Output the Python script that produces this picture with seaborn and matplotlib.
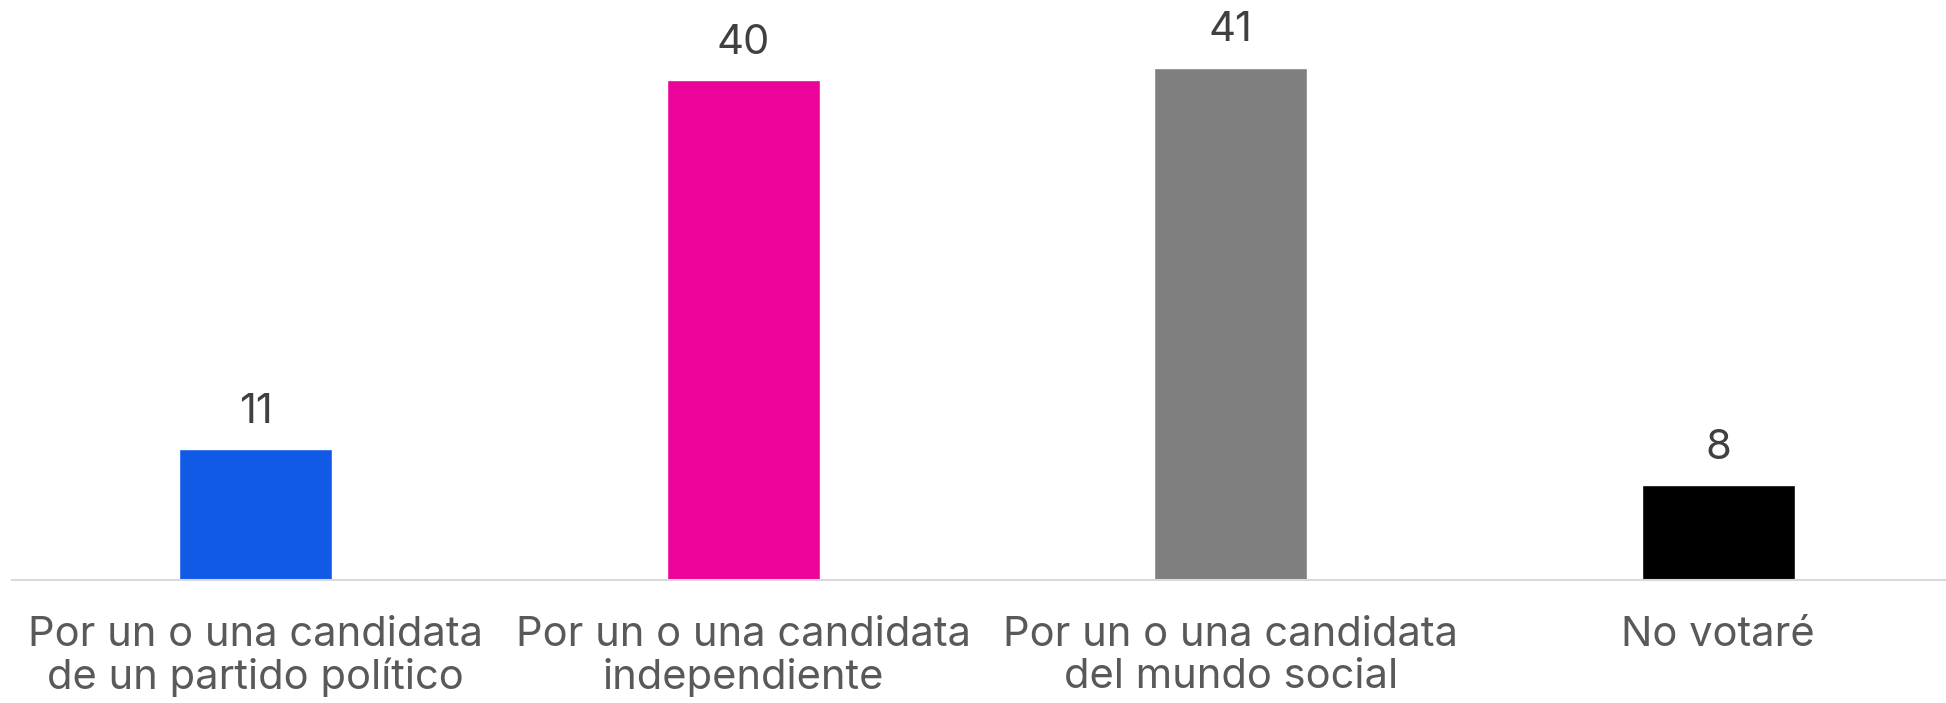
import pandas as pd
import seaborn as sns
import matplotlib.pyplot as plt

# data
categories = ["Por un o una candidata\nde un partido político",
              "Por un o una candidata\nindependiente",
              "Por un o una candidata\ndel mundo social",
              "No votaré"]
values = [10.5, 40, 41, 7.6]
labels = ["11", "40", "41", "8"]
colors = ["#105AE5", "#EC0399", "#7F7F7F", "#000000"]

df = pd.DataFrame({"cat": categories, "val": values})

sns.set_theme(style="white")
plt.rcParams['font.family'] = ['Inter', 'DejaVu Sans']

fig = plt.figure(figsize=(19.46, 7.03), dpi=100)
ax = fig.add_axes([12 / 1946, 123 / 703, 1934 / 1946, 580 / 703])

sns.barplot(data=df, x="cat", y="val", hue="cat", palette=colors,
            width=0.314, legend=False, ax=ax, saturation=1)

for c, lab in zip(ax.containers, labels):
    ax.bar_label(c, labels=[lab], padding=13, fontsize=30, color="#404040")

ax.set_xlim(-0.5, 3.5 - 16 / 487.7)
ax.set_ylim(0, 46.4)
ax.set_xlabel("")
ax.set_ylabel("")
ax.set_yticks([])
ax.tick_params(axis="x", length=0, pad=26, labelsize=30, labelcolor="#595959")
for t in ax.get_xticklabels():
    t.set_linespacing(1.12)
for s in ["top", "left", "right"]:
    ax.spines[s].set_visible(False)
ax.spines["bottom"].set_color("#D9D9D9")
ax.spines["bottom"].set_linewidth(1.5)

fig.savefig("out.png", dpi=100)
